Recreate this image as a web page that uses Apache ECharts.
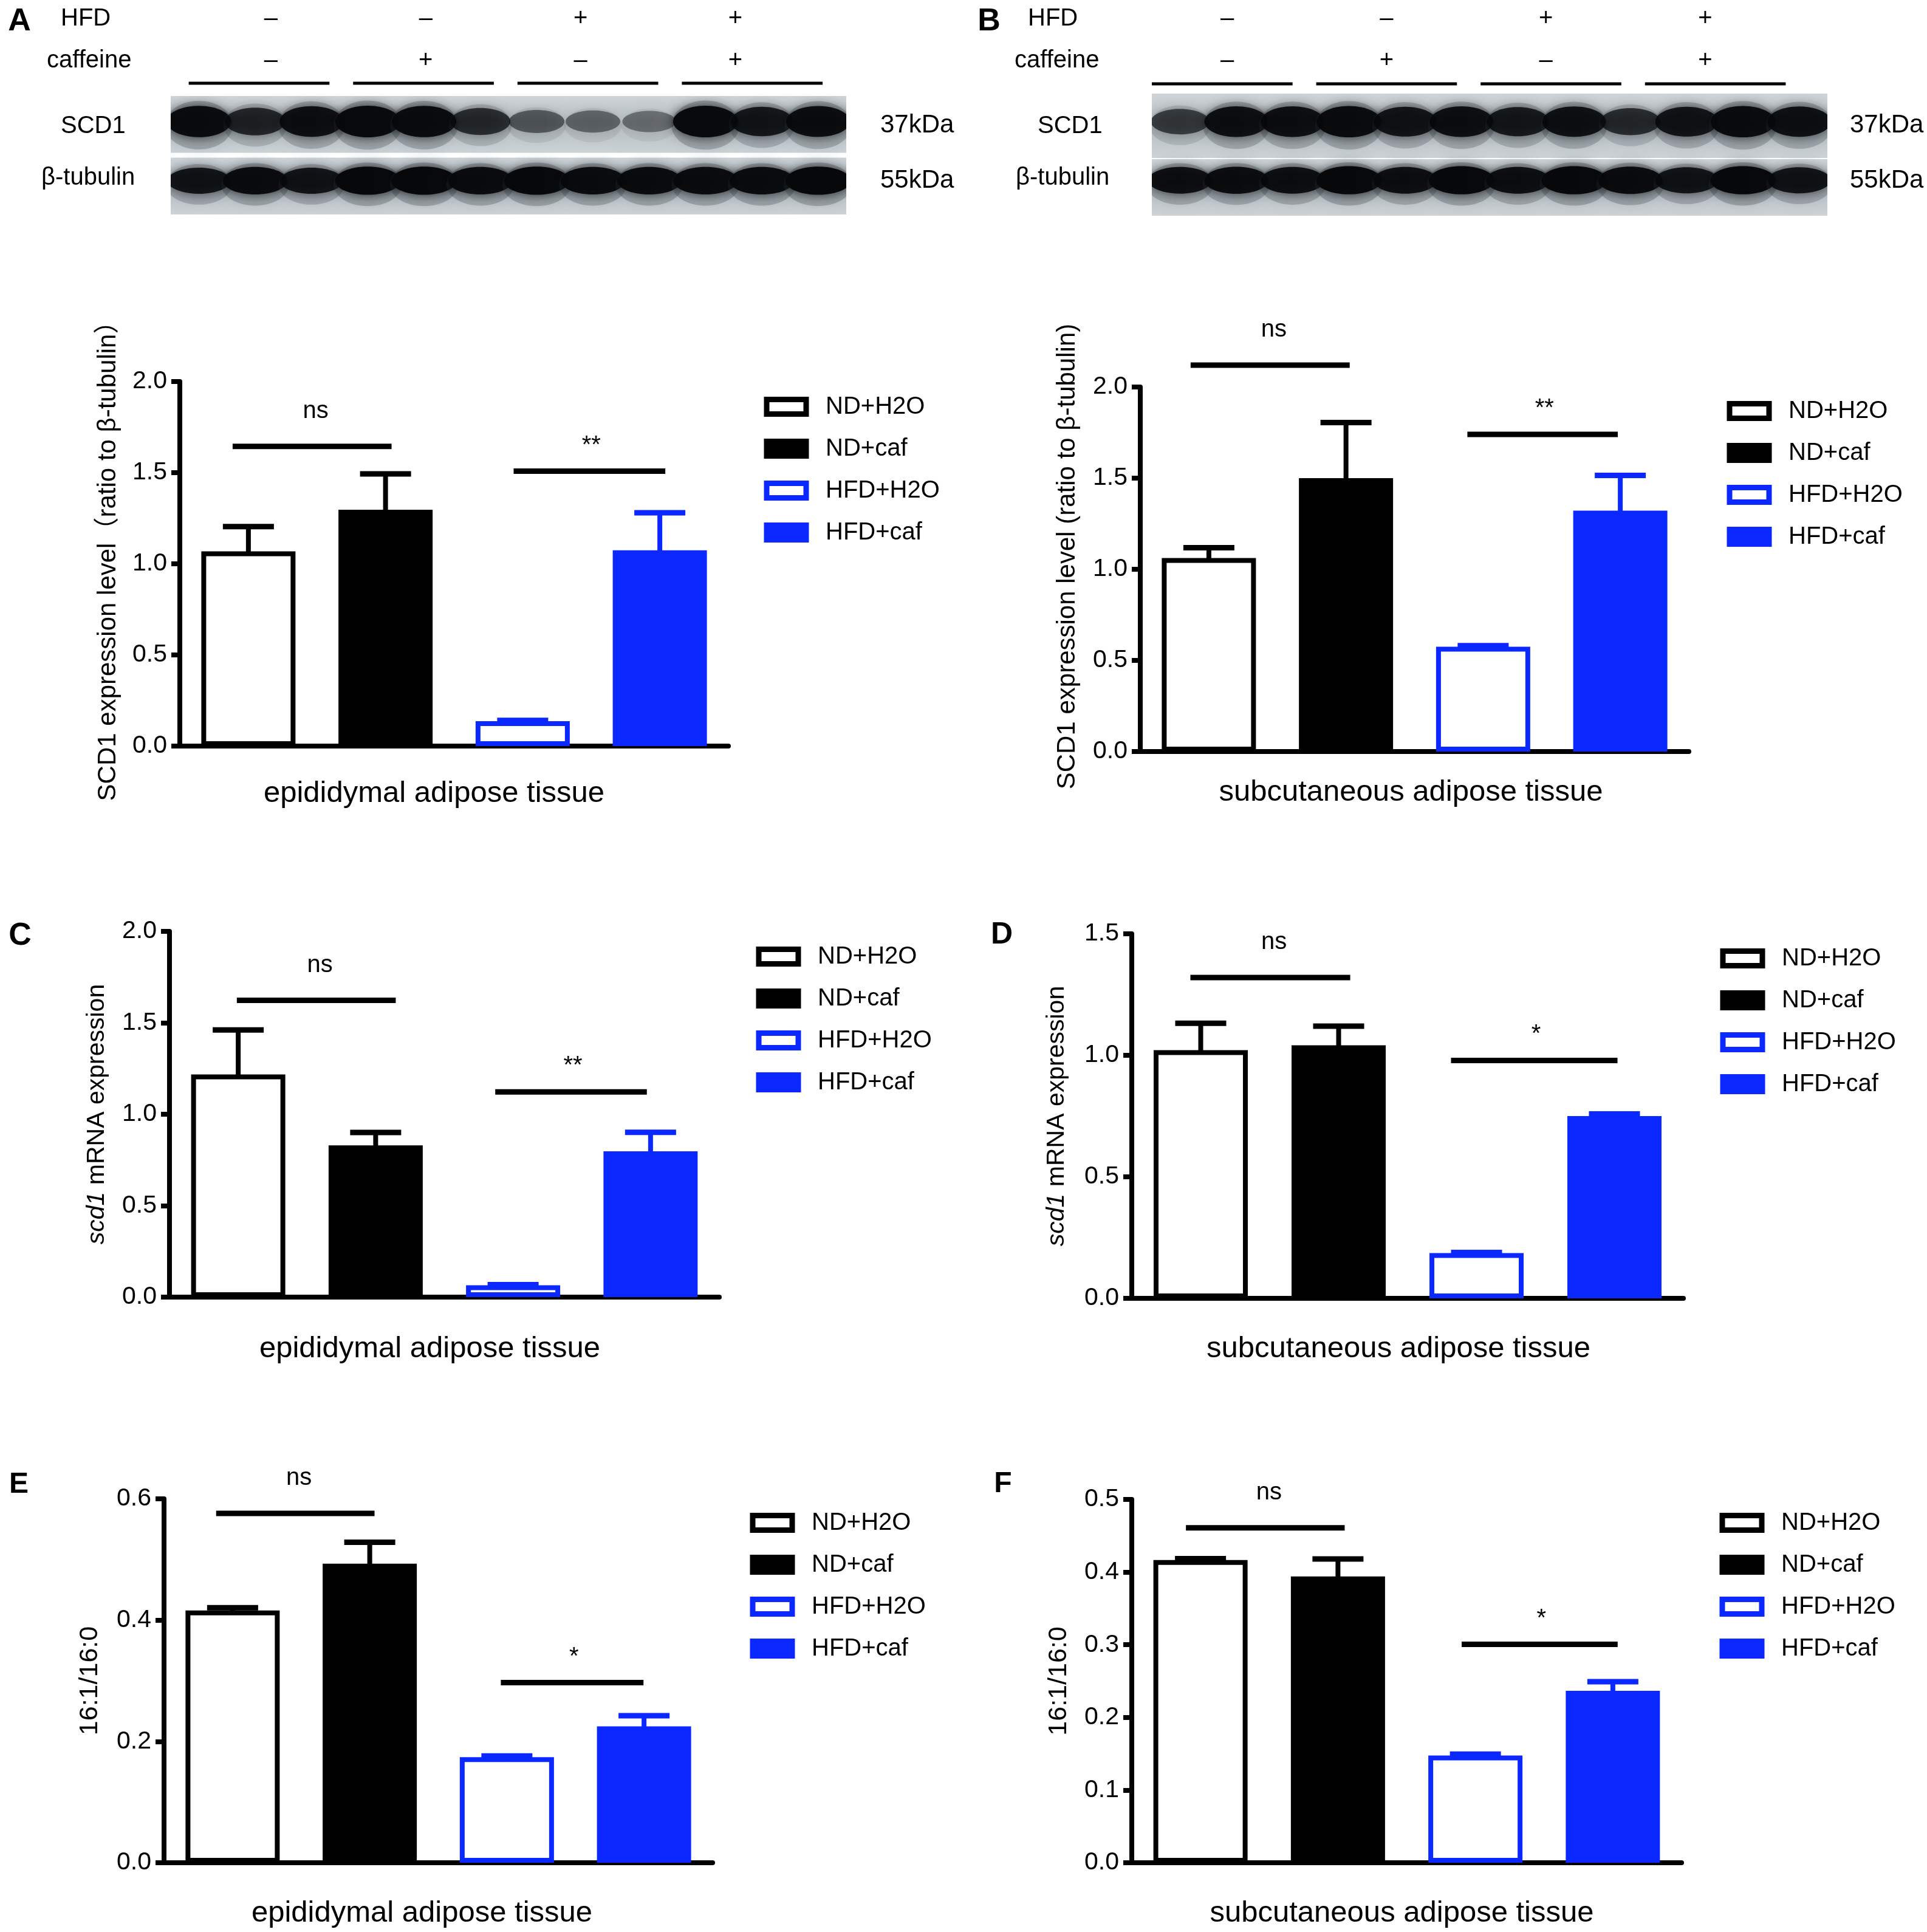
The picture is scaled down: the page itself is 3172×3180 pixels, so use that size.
<!DOCTYPE html>
<html><head><meta charset="utf-8">
<script src="https://cdn.jsdelivr.net/npm/echarts@6/dist/echarts.min.js"></script>
<style>html,body{margin:0;padding:0;background:#fff}#c{width:3172px;height:3180px}</style>
</head><body><div id="c"></div>
<script>
// ---------------- data ----------------
const groups = ['ND+H2O', 'ND+caf', 'HFD+H2O', 'HFD+caf'];

const meanA = [1.068, 1.297, 0.137, 1.074];
const sdA   = [0.136, 0.196, 0.004, 0.206];
const meanB = [1.062, 1.500, 0.575, 1.322];
const sdB   = [0.056, 0.305, 0.006, 0.193];
const meanC = [1.218, 0.830, 0.065, 0.797];
const sdC   = [0.243, 0.070, 0.003, 0.104];
const meanD = [1.021, 1.041, 0.186, 0.750];
const sdD   = [0.111, 0.079, 0.003, 0.009];
const meanE = [0.416, 0.493, 0.174, 0.225];
const sdE   = [0.0045, 0.0355, 0.002, 0.0175];
const meanF = [0.4165, 0.394, 0.1475, 0.2366];
const sdF   = [0.002, 0.024, 0.002, 0.0126];

// significance brackets: [from group pos, to group pos, level]
const sigA = [[-0.115, 1.044, 1.644], [1.934, 3.040, 1.508]];
const sigB = [[-0.133, 1.027, 2.120], [1.885, 2.982, 1.740]];
const sigC = [[-0.010, 1.146, 1.623], [1.870, 2.973, 1.122]];
const sigD = [[-0.075, 1.084, 1.320], [1.815, 3.022, 0.979]];
const sigE = [[-0.120, 1.035, 0.576], [1.956, 2.996, 0.297]];
const sigF = [[-0.106, 1.049, 0.461], [1.900, 3.035, 0.3005]];
const sigTextA = ['ns', '**'];
const sigTextB = ['ns', '**'];
const sigTextC = ['ns', '**'];
const sigTextD = ['ns', '*'];
const sigTextE = ['ns', '*'];
const sigTextF = ['ns', '*'];

// y axis ticks: [min, max, interval]
const yTicksA = [0, 2.0, 0.5];
const yTicksB = [0, 2.0, 0.5];
const yTicksC = [0, 2.0, 0.5];
const yTicksD = [0, 1.5, 0.5];
const yTicksE = [0, 0.6, 0.2];
const yTicksF = [0, 0.5, 0.1];

const yNameA = 'SCD1 expression level（ratio to β-tubulin）';
const yNameB = 'SCD1 expression level (ratio to β-tubulin)';
const yNameC = '{i|scd1} mRNA expression';
const yNameD = '{i|scd1} mRNA expression';
const yNameE = '16:1/16:0';
const yNameF = '16:1/16:0';
const xNameEpi = 'epididymal adipose tissue';
const xNameSub = 'subcutaneous adipose tissue';

// western blot lanes (band darkness 0..1), 12 lanes = 4 groups x 3
const hfdSigns = ['–', '–', '+', '+'];
const cafSigns = ['–', '+', '–', '+'];
const blotA_SCD1 = [0.95, 0.70, 0.90, 0.97, 0.95, 0.65, 0.38, 0.32, 0.26, 0.97, 0.82, 0.92];
const blotA_tub  = [0.85, 0.95, 0.85, 1.00, 1.00, 0.95, 1.00, 0.95, 0.95, 0.95, 0.95, 1.00];
const blotB_SCD1 = [0.55, 0.90, 0.90, 0.95, 0.85, 0.90, 0.80, 0.88, 0.65, 0.85, 0.95, 0.88];
const blotB_tub  = [0.90, 0.92, 0.90, 1.00, 0.90, 1.00, 0.90, 1.00, 0.95, 0.85, 1.00, 0.85];

// ---------------- style / layout ----------------
const BLUE = '#0A28FF';
const FONT = "'Liberation Sans', Arial, 'Noto Sans CJK SC', sans-serif";
const barStyles = [
  {color: '#ffffff', borderColor: '#000000'},
  {color: '#000000', borderColor: '#000000'},
  {color: '#ffffff', borderColor: BLUE},
  {color: BLUE, borderColor: BLUE}
];
const errColors = ['#000000', '#000000', BLUE, BLUE];

const panels = [
  {means: meanA, sds: sdA, sig: sigA, sigText: sigTextA, yt: yTicksA, yName: yNameA, xName: xNameEpi,
   box: {left: 296, top: 628, width: 903, height: 600}, leg: {left: 1257.5, top: 649.5}, xGap: 54, xShift: 33, yGap: 97, yPad: 30, yFont: 42},
  {means: meanB, sds: sdB, sig: sigB, sigText: sigTextB, yt: yTicksB, yName: yNameB, xName: xNameSub,
   box: {left: 1877, top: 637, width: 903, height: 600}, leg: {left: 2842.5, top: 656.5}, xGap: 43, xShift: 6, yGap: 99, yPad: 42, yFont: 42},
  {means: meanC, sds: sdC, sig: sigC, sigText: sigTextC, yt: yTicksC, yName: yNameC, xName: xNameEpi,
   box: {left: 279, top: 1533, width: 905, height: 602}, leg: {left: 1244.5, top: 1554.5}, xGap: 61, xShift: 24, yGap: 99, yPad: 0, yFont: 41},
  {means: meanD, sds: sdD, sig: sigD, sigText: sigTextD, yt: yTicksD, yName: yNameD, xName: xNameSub,
   box: {left: 1863, top: 1537, width: 908, height: 600}, leg: {left: 2831.5, top: 1557.5}, xGap: 59, xShift: 15, yGap: 103, yPad: 0, yFont: 41},
  {means: meanE, sds: sdE, sig: sigE, sigText: sigTextE, yt: yTicksE, yName: yNameE, xName: xNameEpi,
   box: {left: 270, top: 2467, width: 903, height: 599}, leg: {left: 1234.5, top: 2486.5}, xGap: 59, xShift: 27, yGap: 100, yPad: 0, yFont: 43},
  {means: meanF, sds: sdF, sig: sigF, sigText: sigTextF, yt: yTicksF, yName: yNameF, xName: xNameSub,
   box: {left: 1863, top: 2468, width: 905, height: 598}, leg: {left: 2830.5, top: 2486.5}, xGap: 59, xShift: 8, yGap: 98, yPad: 0, yFont: 43}
];

const blots = [
  {scd1: blotA_SCD1, tub: blotA_tub, box: {left: 281, top: 158, width: 1112, height: 195},
   strips: [[0, 0.96], [1.04, 2]], bandPos: [0.43, 0.43],
   signStart: 1.78, signPitch: 2.75, lineStart: 0.32, linePitch: 2.92, lineLen: 2.5,
   lineOff: -21, hfdOff: -127, cafOff: -58},
  {scd1: blotB_SCD1, tub: blotB_tub, box: {left: 1896, top: 154, width: 1112, height: 201},
   strips: [[0, 1.055], [1.075, 2]], bandPos: [0.46, 0.42],
   signStart: 1.34, signPitch: 2.83, lineStart: 0.0, linePitch: 2.92, lineLen: 2.5,
   lineOff: -16, hfdOff: -123, cafOff: -54}
];

// ---------------- build option ----------------
const grid = [], xAxis = [], yAxis = [], series = [], legend = [];

panels.forEach((p, i) => {
  grid.push(Object.assign({outerBoundsMode: 'none', containLabel: false}, p.box));
  xAxis.push({
    gridIndex: i, type: 'category', data: groups, boundaryGap: true,
    axisLine: {show: true, onZero: false, lineStyle: {color: '#000', width: 8}},
    axisTick: {show: false}, axisLabel: {show: false}, splitLine: {show: false},
    name: p.xName, nameLocation: 'middle', nameGap: p.xGap, nameMoveOverlap: false,
    nameTextStyle: {fontSize: 49, lineHeight: 49, color: '#000', fontFamily: FONT, padding: [0, 2 * p.xShift, 0, 0]}
  });
  xAxis.push({gridIndex: i, type: 'value', min: -0.5, max: 3.5, show: false,
    axisLine: {show: false, onZero: false}});
  yAxis.push({
    gridIndex: i, type: 'value', min: p.yt[0], max: p.yt[1], interval: p.yt[2],
    axisLine: {show: true, onZero: false, lineStyle: {color: '#000', width: 8}},
    axisTick: {show: true, length: 14, lineStyle: {color: '#000', width: 8}},
    axisLabel: {fontSize: 41, color: '#000', fontFamily: FONT, margin: 21, formatter: v => v.toFixed(1)},
    splitLine: {show: false},
    name: p.yName, nameLocation: 'middle', nameGap: p.yGap, nameRotate: 90, nameMoveOverlap: false,
    nameTextStyle: {fontSize: p.yFont, lineHeight: p.yFont, color: '#000', fontFamily: FONT, padding: [0, 0, 0, p.yPad],
      rich: {i: {fontStyle: 'italic', fontSize: p.yFont, lineHeight: p.yFont, color: '#000', fontFamily: FONT}}}
  });

  groups.forEach((g, k) => {
    series.push({
      type: 'bar', name: g, xAxisIndex: 2 * i, yAxisIndex: i,
      barWidth: 155, barGap: '-100%', silent: true,
      itemStyle: {color: barStyles[k].color, borderColor: barStyles[k].borderColor, borderWidth: 8},
      data: groups.map((_, j) => (j === k ? p.means[k] : '-')),
      z: 2
    });
  });

  series.push({
    type: 'custom', name: 'err' + i, xAxisIndex: 2 * i + 1, yAxisIndex: i, silent: true, z: 3,
    data: p.means.map((m, k) => [k, m, p.sds[k]]),
    renderItem: (params, api) => {
      const x = api.value(0), m = api.value(1), s = api.value(2);
      const p0 = api.coord([x, m]), p1 = api.coord([x, m + s]);
      const col = errColors[params.dataIndex];
      return {type: 'group', children: [
        {type: 'line', shape: {x1: p0[0], y1: p0[1] + 4, x2: p1[0], y2: p1[1]}, style: {stroke: col, lineWidth: 8}},
        {type: 'line', shape: {x1: p1[0] - 42, y1: p1[1], x2: p1[0] + 42, y2: p1[1]}, style: {stroke: col, lineWidth: 9}}
      ]};
    }
  });

  series.push({
    type: 'custom', name: 'sig' + i, xAxisIndex: 2 * i + 1, yAxisIndex: i, silent: true, z: 3,
    data: p.sig,
    renderItem: (params, api) => {
      const a = api.coord([api.value(0), api.value(2)]);
      const b = api.coord([api.value(1), api.value(2)]);
      const t = p.sigText[params.dataIndex];
      const off = t === 'ns' ? 58 : 42;
      return {type: 'group', children: [
        {type: 'line', shape: {x1: a[0], y1: a[1], x2: b[0], y2: b[1]}, style: {stroke: '#000', lineWidth: 9}},
        {type: 'text', x: (a[0] + b[0]) / 2 + (t === 'ns' ? 6 : 3), y: a[1] - off,
         style: {text: t, fontSize: 40, fontFamily: FONT, fill: '#000', align: 'center', verticalAlign: 'middle'}}
      ]};
    }
  });

  legend.push({
    orient: 'vertical', left: p.leg.left, top: p.leg.top, padding: 0,
    itemWidth: 65, itemHeight: 24, itemGap: 29, icon: 'rect', selectedMode: false,
    textStyle: {fontSize: 40, lineHeight: 33, color: '#000', fontFamily: FONT, padding: [0, 0, 0, 27]},
    data: groups.map((g, k) => ({name: g, icon: 'rect',
      itemStyle: {color: barStyles[k].color, borderColor: barStyles[k].borderColor, borderWidth: 9}}))
  });
});

blots.forEach((b, j) => {
  const gi = panels.length + j;
  grid.push(Object.assign({outerBoundsMode: 'none', containLabel: false}, b.box));
  xAxis.push({gridIndex: gi, type: 'value', min: 0, max: 12, show: false, axisLine: {onZero: false}});
  yAxis.push({gridIndex: gi, type: 'value', min: 0, max: 2, inverse: true, show: false, axisLine: {onZero: false}});
  const xi = xAxis.length - 1, yi = yAxis.length - 1;

  series.push({
    type: 'custom', xAxisIndex: xi, yAxisIndex: yi, silent: true, z: 1,
    data: [[0], [1]],
    renderItem: (params, api) => {
      const r = params.dataIndex;
      const p0 = api.coord([0, b.strips[r][0]]), p1 = api.coord([12, b.strips[r][1]]);
      return {type: 'rect', shape: {x: p0[0], y: p0[1], width: p1[0] - p0[0], height: p1[1] - p0[1]},
        style: {fill: new echarts.graphic.LinearGradient(0, 0, 0, 1, [
          {offset: 0, color: '#CED4D8'}, {offset: 0.5, color: '#BAC2C7'}, {offset: 1, color: '#CCD2D6'}])}};
    }
  });

  const bandData = [];
  b.scd1.forEach((v, l) => bandData.push([l, 0, v]));
  b.tub.forEach((v, l) => bandData.push([l, 1, v]));
  series.push({
    type: 'custom', xAxisIndex: xi, yAxisIndex: yi, silent: true, z: 2, clip: true,
    data: bandData,
    renderItem: (params, api) => {
      const lane = api.value(0), row = api.value(1), v = api.value(2);
      const c = api.coord([lane + 0.5, row + b.bandPos[row]]);
      const pitch = api.size([1, 0])[0];
      const rx = pitch * (0.44 + 0.14 * v);
      const ry = (row === 0 ? 24 : 21) * (0.6 + 0.5 * v);
      return {type: 'group', children: [
        {type: 'ellipse', shape: {cx: c[0], cy: c[1] + 6, rx: rx * 1.05, ry: ry * 1.55},
         style: {fill: 'rgba(50,60,68,' + (0.28 * v) + ')', shadowBlur: 26, shadowColor: 'rgba(50,60,68,' + (0.35 * v) + ')'}},
        {type: 'ellipse', shape: {cx: c[0], cy: c[1], rx: rx, ry: ry},
         style: {fill: 'rgba(6,8,10,' + (0.2 + 0.8 * v) + ')', shadowBlur: 18, shadowColor: 'rgba(0,0,0,' + (0.75 * v) + ')'}}
      ]};
    }
  });

  series.push({
    type: 'custom', xAxisIndex: xi, yAxisIndex: yi, silent: true, z: 3,
    data: [[0], [1], [2], [3]],
    renderItem: (params, api) => {
      const g = params.dataIndex;
      const top = api.coord([0, 0])[1];
      const s = api.coord([b.signStart + b.signPitch * g, 0])[0];
      const l1 = api.coord([b.lineStart + b.linePitch * g, 0])[0];
      const l2 = api.coord([b.lineStart + b.linePitch * g + b.lineLen, 0])[0];
      return {type: 'group', children: [
        {type: 'line', shape: {x1: l1, y1: top + b.lineOff, x2: l2, y2: top + b.lineOff}, style: {stroke: '#000', lineWidth: 5}},
        {type: 'text', x: s, y: top + b.hfdOff, style: {text: hfdSigns[g], fontSize: 40, fontFamily: FONT, fill: '#000', align: 'center', verticalAlign: 'middle'}},
        {type: 'text', x: s, y: top + b.cafOff, style: {text: cafSigns[g], fontSize: 40, fontFamily: FONT, fill: '#000', align: 'center', verticalAlign: 'middle'}}
      ]};
    }
  });
});

function label(text, x, y, size, weight, align) {
  return {type: 'text', x: x, y: y, silent: true,
    style: {text: text, fontSize: size, fontWeight: weight || 'normal', fontFamily: FONT, fill: '#000',
      align: align || 'left', verticalAlign: 'middle'}};
}
const graphics = [
  label('A', 32, 36, 52, 'bold', 'center'),
  label('HFD', 100, 31, 40), label('caffeine', 77, 100, 40),
  label('SCD1', 100, 208, 40), label('β-tubulin', 68, 293, 40),
  label('37kDa', 1449, 206, 42), label('55kDa', 1449, 297, 42),
  label('B', 1628, 36, 52, 'bold', 'center'),
  label('HFD', 1692, 31, 40), label('caffeine', 1670, 100, 40),
  label('SCD1', 1708, 208, 40), label('β-tubulin', 1672, 293, 40),
  label('37kDa', 3045, 206, 42), label('55kDa', 3045, 297, 42),
  label('C', 33, 1541, 52, 'bold', 'center'),
  label('D', 1649, 1539, 50, 'bold', 'center'),
  label('E', 31, 2444, 48, 'bold', 'center'),
  label('F', 1651, 2443, 48, 'bold', 'center')
];

const chart = echarts.init(document.getElementById('c'), null, {renderer: 'canvas'});
chart.setOption({
  animation: false,
  backgroundColor: '#ffffff',
  textStyle: {fontFamily: FONT},
  grid: grid, xAxis: xAxis, yAxis: yAxis, legend: legend, series: series,
  graphic: graphics
});
</script>
</body></html>
